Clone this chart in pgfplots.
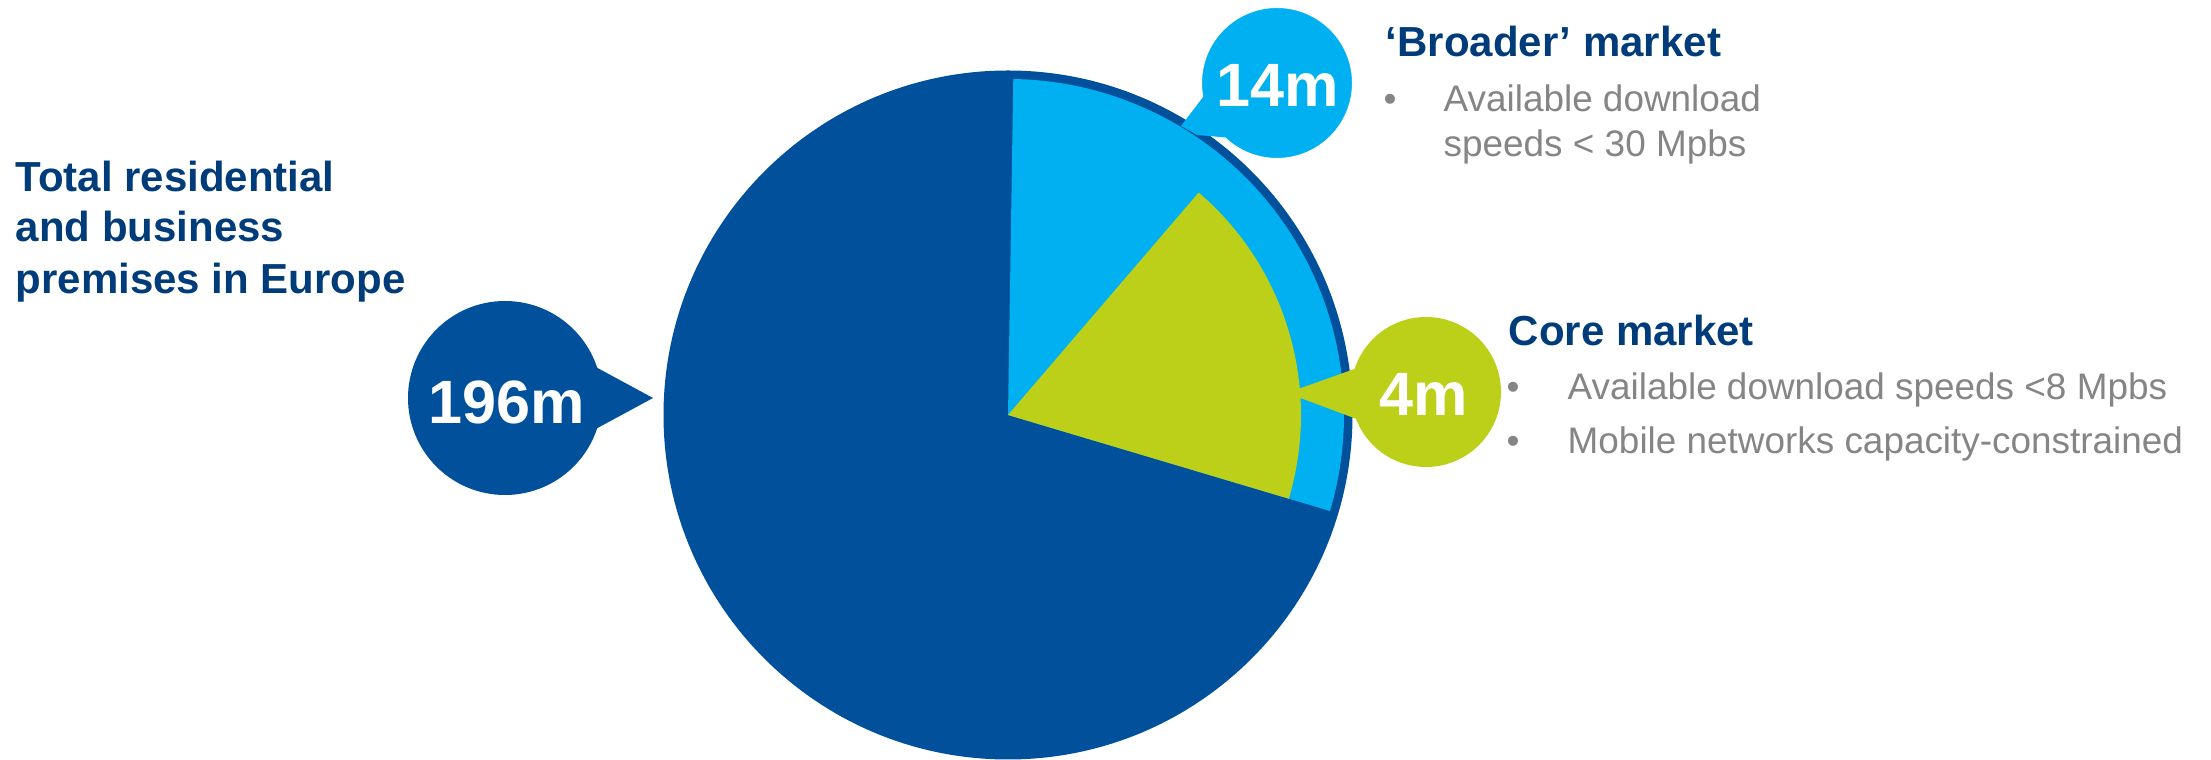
\documentclass[border=0pt]{standalone}
\usepackage{fontspec}
\setmainfont{Liberation Sans}
\usepackage{pgfplots}
\pgfplotsset{compat=1.18}
\definecolor{pieDark}{HTML}{00509B}
\definecolor{pieLight}{HTML}{00B0F0}
\definecolor{pieGreen}{HTML}{BCCF19}
\definecolor{navy}{HTML}{003B7A}
\definecolor{greyTxt}{HTML}{858585}
% values shown (millions of premises)
\def\vTotal{196}
\def\vBroad{14}
\def\vCore{4}
% illustrative pie geometry (axis units = px; 1 unit = 0.1 mm)
\def\cx{1008}\def\cy{344}
\def\rDark{34.45mm}
\def\rLight{33.6mm}\def\aLs{-16.6}\def\aLe{89.1}
\def\rGreen{29.3mm}\def\aGs{-16.6}\def\aGe{49.4}
\begin{document}
\begin{tikzpicture}
\useasboundingbox (0,0) rectangle (221.1mm,75.9mm);
\begin{axis}[at={(0,0)},anchor=south west,scale only axis,
  width=221.1mm,height=75.9mm,xmin=0,xmax=2211,ymin=0,ymax=759,
  enlargelimits=false,hide axis,clip=false]
\addplot[draw=none,mark=none] coordinates {(\cx,\cy)};
% pie
\fill[pieDark] (axis cs:\cx,\cy) circle[radius=\rDark];
\fill[pieLight] (axis cs:\cx,\cy) -- ++(\aLs:\rLight) arc[start angle=\aLs,end angle=\aLe,radius=\rLight] -- cycle;
\fill[pieGreen] (axis cs:\cx,\cy) -- ++(\aGs:\rGreen) arc[start angle=\aGs,end angle=\aGe,radius=\rGreen] -- cycle;
% 196m bubble
\fill[pieDark] (axis cs:505,361) circle[radius=9.7mm];
\fill[pieDark] (axis cs:592,394) -- (axis cs:653,361) -- (axis cs:592,328) -- cycle;
\node[anchor=base,inner sep=0,text=white,font=\fontsize{17.4}{20}\selectfont\bfseries] at (axis cs:507,335.7) {\vTotal m};
% 14m bubble
\filldraw[fill=pieLight,draw=white,line width=0.3mm] (axis cs:1277,676) circle[radius=7.65mm];
\fill[pieLight] (axis cs:1210,671) -- (axis cs:1181,633) -- (axis cs:1197,624) -- (axis cs:1232,621) -- cycle;
\node[anchor=base,inner sep=0,text=white,font=\fontsize{17.4}{20}\selectfont\bfseries] at (axis cs:1277.5,652.3) {\vBroad m};
% 4m bubble
\fill[pieGreen] (axis cs:1426,367) circle[radius=7.5mm];
\fill[pieGreen] (axis cs:1360,392) -- (axis cs:1287,366) -- (axis cs:1362,338) -- cycle;
\node[anchor=base,inner sep=0,text=white,font=\fontsize{17.4}{20}\selectfont\bfseries] at (axis cs:1423.7,343) {\vCore m};
% left title
\begin{scope}[every node/.style={anchor=base west,inner sep=0,text=navy,font=\fontsize{11.95}{14}\selectfont\bfseries}]
\node at (axis cs:15,567.3) {Total residential};
\node at (axis cs:15,517.3) {and business};
\node at (axis cs:15,465.7) {premises in Europe};
\node at (axis cs:1385,702.3) {‘Broader’ market};
\node at (axis cs:1508,413.3) {Core market};
\end{scope}
\begin{scope}[every node/.style={anchor=base west,inner sep=0,text=greyTxt,font=\fontsize{10.5}{12}\selectfont}]
\node at (axis cs:1383,647.3) {•};
\node at (axis cs:1443,647.3) {Available download};
\node at (axis cs:1443,602.3) {speeds < 30 Mpbs};
\node at (axis cs:1506,359) {•};
\node at (axis cs:1567,359) {Available download speeds <8 Mpbs};
\node at (axis cs:1506,305) {•};
\node at (axis cs:1567,305) {Mobile networks capacity-constrained};
\end{scope}
\end{axis}
\end{tikzpicture}
\end{document}
